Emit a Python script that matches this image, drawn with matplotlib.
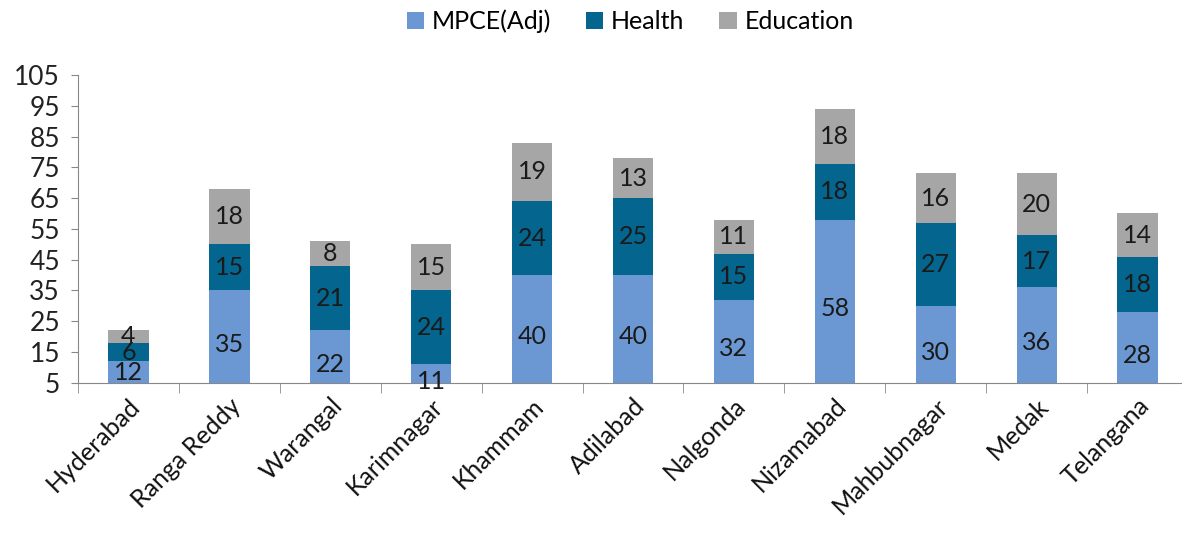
import numpy as np
import matplotlib.pyplot as plt
from matplotlib.ticker import FixedLocator

districts = ["Hyderabad", "Ranga Reddy", "Warangal", "Karimnagar", "Khammam",
             "Adilabad", "Nalgonda", "Nizamabad", "Mahbubnagar", "Medak", "Telangana"]
mpce = [12, 35, 22, 11, 40, 40, 32, 58, 30, 36, 28]
health = [6, 15, 21, 24, 24, 25, 15, 18, 27, 17, 18]
education = [4, 18, 8, 15, 19, 13, 11, 18, 16, 20, 14]

series = [("MPCE(Adj)", mpce, "#6b98d3"),
          ("Health", health, "#04668f"),
          ("Education", education, "#a6a6a6")]

plt.rcParams['font.family'] = ['Lato', 'DejaVu Sans']

fig = plt.figure(figsize=(11.82, 5.43), dpi=100)
ax = fig.add_axes([0.066, 0.295, 0.934, 0.567])

x = np.arange(len(districts))
bottom = np.zeros(len(districts))
for name, vals, col in series:
    vals = np.array(vals, dtype=float)
    ax.bar(x, vals, 0.4, bottom=bottom, color=col, label=name, zorder=2)
    for xi, b, v in zip(x, bottom, vals):
        yc = b + v / 2
        if xi == 0 and name == "MPCE(Adj)":
            yc = 8.5
        ax.text(xi, yc, f"{int(v)}", ha="center", va="center",
                fontsize=18, color="#1a1a1a", zorder=3)
    bottom += vals

ax.set_ylim(5, 105)
ax.set_xlim(-0.5, 10.44)
ax.set_yticks(np.arange(5, 106, 10))
ax.tick_params(axis="y", labelsize=19, length=5, color="#888888", labelcolor="#222222", pad=8)

ax.set_xticks(x)
ax.set_xticklabels(districts, rotation=45, ha="right", rotation_mode="anchor",
                   fontsize=18, color="#111111")
ax.tick_params(axis="x", which="major", length=0, pad=8)
ax.xaxis.set_minor_locator(FixedLocator(np.arange(-0.5, 11, 1)))
ax.tick_params(axis="x", which="minor", length=7, color="#888888")

for s in ["top", "right"]:
    ax.spines[s].set_visible(False)
for s in ["left", "bottom"]:
    ax.spines[s].set_color("#888888")

ax.legend(loc="upper center", bbox_to_anchor=(0.5, 1.285), ncol=3, frameon=False,
          fontsize=18, handlelength=0.7, handleheight=0.7, handletextpad=0.3,
          columnspacing=1.4)

fig.savefig("out.png", dpi=100)
